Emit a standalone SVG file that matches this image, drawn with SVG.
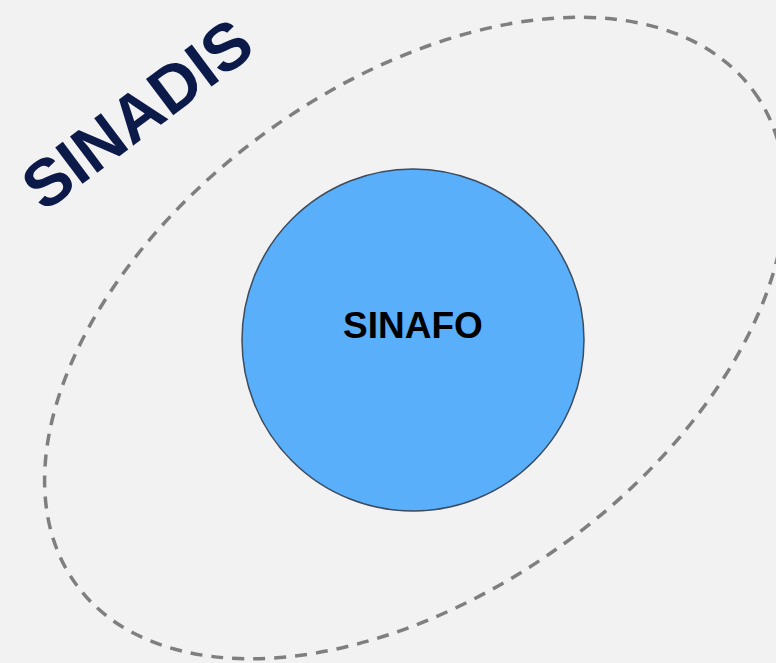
<svg xmlns="http://www.w3.org/2000/svg" width="776" height="663" viewBox="0 0 776 663">
<style>
.bg{fill:#f2f2f2}
.boundary{fill:none;stroke:#7f7f7f;stroke-width:3.5;stroke-dasharray:12 9}
.inner{fill:#5aaffb;stroke:#3c4b5e;stroke-width:1.5}
.lbl{font-family:"Liberation Sans",Arial,sans-serif;font-weight:bold;text-anchor:middle}
</style>
<rect class="bg" x="0" y="0" width="776" height="663"/>
<g id="sinadis">
<ellipse class="boundary" cx="415" cy="338" rx="419" ry="254" transform="rotate(-36 415 338)"/>
<text class="lbl" transform="translate(137,114) rotate(-37)" x="0" y="23" font-size="66" fill="#0b1a48">SINADIS</text>
</g>
<g id="sinafo">
<circle class="inner" cx="413" cy="340" r="171"/>
<text class="lbl" x="413" y="338" font-size="37" fill="#000">SINAFO</text>
</g>
</svg>
